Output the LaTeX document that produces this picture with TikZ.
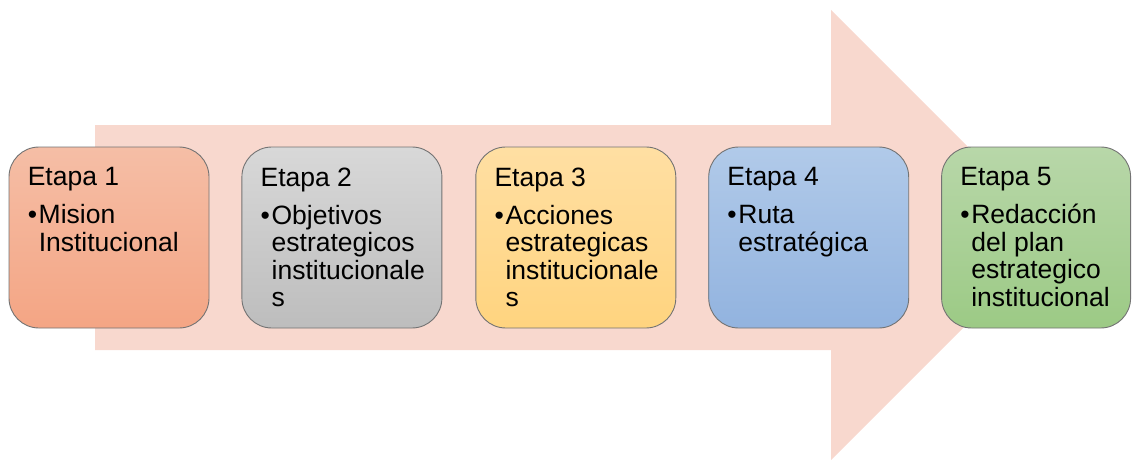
\documentclass[tikz,border=0pt]{standalone}
\usepackage{fontspec}
\setmainfont{Liberation Sans}
\usetikzlibrary{positioning}

\definecolor{flecha}{HTML}{F8D8CE}
\definecolor{rojoA}{HTML}{F5BEA6}
\definecolor{rojoB}{HTML}{F4A584}
\definecolor{grisA}{HTML}{D8D8D8}
\definecolor{grisB}{HTML}{BDBDBD}
\definecolor{amaA}{HTML}{FFDFA3}
\definecolor{amaB}{HTML}{FFD47F}
\definecolor{azulA}{HTML}{B1CAE9}
\definecolor{azulB}{HTML}{92B3DF}
\definecolor{verdeA}{HTML}{B8D7A9}
\definecolor{verdeB}{HTML}{9CCA85}

\newcommand{\bul}{\makebox[11pt][l]{•}}
\newcommand{\ind}{\hspace*{11pt}}

\begin{document}
\begin{tikzpicture}[x=1pt, y=-1pt]
    \tikzstyle{etapa}=[rectangle, rounded corners=30pt, draw=black!55, line width=0.9pt, minimum width=200pt, minimum height=181pt, inner sep=0pt]
    \tikzstyle{texto}=[anchor=north west, align=left, inner sep=0pt, font=\fontsize{26.5}{27.5}\selectfont]

    \useasboundingbox (0,0) rectangle (1132,460);

    % Big arrow
    \fill[flecha] (95,125) -- (831,125) -- (831,10) -- (1056,235) -- (831,460) -- (831,350) -- (95,350) -- cycle;

    % Stages
    \node[etapa, top color=rojoA, bottom color=rojoB] (e1) at (109,237.5) {};
    \node[etapa, top color=grisA, bottom color=grisB] (e2) [right=32pt of e1] {};
    \node[etapa, top color=amaA, bottom color=amaB] (e3) [right=33pt of e2] {};
    \node[etapa, top color=azulA, bottom color=azulB] (e4) [right=32pt of e3] {};
    \node[etapa, top color=verdeA, bottom color=verdeB, minimum width=189pt] (e5) [right=32pt of e4] {};

    % Texts
    \node[texto] (t1) at ([xshift=19pt, yshift=-21pt]e1.north west) {Etapa 1\\[10.5pt]\bul Mision\\\ind Institucional};
    \node[texto] (t2) at ([xshift=19pt, yshift=-21pt]e2.north west) {Etapa 2\\[10.5pt]\bul Objetivos\\\ind estrategicos\\\ind institucionale\\\ind s};
    \node[texto] (t3) at ([xshift=19pt, yshift=-21pt]e3.north west) {Etapa 3\\[10.5pt]\bul Acciones\\\ind estrategicas\\\ind institucionale\\\ind s};
    \node[texto] (t4) at ([xshift=19pt, yshift=-21pt]e4.north west) {Etapa 4\\[10.5pt]\bul Ruta\\\ind estratégica};
    \node[texto] (t5) at ([xshift=19pt, yshift=-21pt]e5.north west) {Etapa 5\\[10.5pt]\bul Redacción\\\ind del plan\\\ind estrategico\\\ind institucional};
\end{tikzpicture}
\end{document}
